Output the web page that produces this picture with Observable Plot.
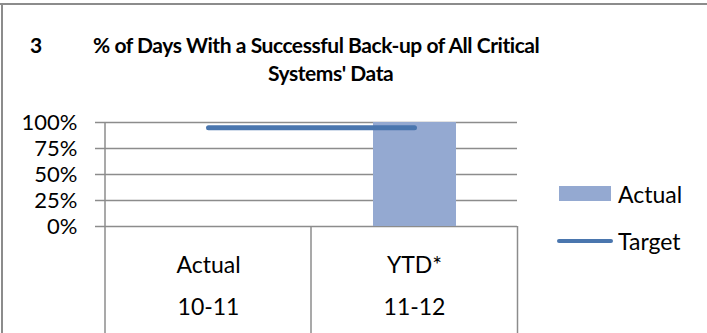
<!DOCTYPE html>
<html><head><meta charset="utf-8">
<script src="https://cdn.jsdelivr.net/npm/d3@7"></script>
<script src="https://cdn.jsdelivr.net/npm/@observablehq/plot@0.6"></script>
<style>
body{margin:0;background:#fff;}
#wrap{position:relative;width:707px;height:333px;overflow:hidden;background:#fff;font-family:Lato,"Open Sans",sans-serif;color:#000;}
#wrap svg{position:absolute;left:0;top:0;}
.bt{position:absolute;left:0;top:3px;width:707px;height:2px;background:#8c8c8c;}
.bl{position:absolute;left:1px;top:3px;width:2px;height:330px;background:#8c8c8c;}
.title{position:absolute;font-weight:bold;font-size:21px;line-height:28px;letter-spacing:-0.45px;white-space:nowrap;}
.leg{position:absolute;font-size:23px;line-height:26px;white-space:nowrap;}
.sw{position:absolute;}
</style></head><body><div id="wrap"></div>
<script>
const periods = ["Actual", "YTD*"];
const years = ["10-11", "11-12"];
const actualValues = [null, 1.00];
const targetValues = [0.95, 0.95];
const yTicks = [0, 0.25, 0.5, 0.75, 1];
const titleNumber = "3";
const titleLine1 = "% of Days With a Successful Back-up of All Critical";
const titleLine2 = "Systems' Data";
const seriesNames = ["Actual", "Target"];
const barColor = "#94a9d1";
const lineColor = "#4a76ae";
const gridColor = "#8c8c8c";

const data = years.map((yr, i) => ({year: yr, period: periods[i], actual: actualValues[i], target: targetValues[i]}));

const frameLines = (index, scales, values, dim) => {
  const x = scales.x;
  const dom = x.domain();
  const bw = (dim.width - dim.marginLeft - dim.marginRight) / dom.length;
  const xs = dom.map(d => x(d)).concat([x(dom[dom.length - 1]) + bw]);
  const g = d3.create("svg:g").attr("stroke", gridColor).attr("stroke-width", 1.5);
  xs.forEach((px, i) => {
    g.append("line").attr("x1", px).attr("x2", px)
      .attr("y1", i === 0 ? dim.marginTop : dim.height - dim.marginBottom)
      .attr("y2", dim.height);
  });
  return g.node();
};

const chart = Plot.plot({
  width: 707, height: 333,
  marginLeft: 104, marginRight: 190, marginTop: 122, marginBottom: 107,
  style: {fontFamily: "Lato, 'Open Sans', sans-serif", fontSize: "22px", color: "#000", background: "transparent"},
  x: {type: "band", domain: years, padding: 0, axis: null},
  y: {domain: [0, 1]},
  marks: [
    Plot.gridY(yTicks, {stroke: gridColor, strokeOpacity: 1, strokeWidth: 1.5}),
    Plot.axisY(yTicks, {tickFormat: d3.format(".0%"), tickSize: 9, tickPadding: 18, stroke: gridColor, strokeWidth: 1.5, fontSize: 22, fill: "#000"}),
    Plot.barY(data.filter(d => d.actual != null), {x: "year", y: "actual", fill: barColor, insetLeft: 62, insetRight: 61}),
    frameLines,
    Plot.line(data, {x: "year", y: "target", stroke: lineColor, strokeWidth: 5, strokeLinecap: "round"}),
    Plot.text(data, {x: "year", text: "period", frameAnchor: "bottom", dy: 46, fontSize: 23, fill: "#000"}),
    Plot.text(data, {x: "year", text: "year", frameAnchor: "bottom", dy: 88, fontSize: 23, fill: "#000"})
  ]
});

const wrap = document.getElementById("wrap");
wrap.appendChild(chart);
wrap.insertAdjacentHTML("beforeend", `
  <div class="bt"></div><div class="bl"></div>
  <div class="title" style="left:30px;top:31px;">${titleNumber}</div>
  <div class="title" style="left:93px;top:31px;">${titleLine1}</div>
  <div class="title" style="left:268px;top:59px;">${titleLine2}</div>
  <div class="sw" style="left:559px;top:186px;width:52px;height:15px;background:${barColor};"></div>
  <div class="leg" style="left:618px;top:181px;">${seriesNames[0]}</div>
  <div class="sw" style="left:557px;top:239px;width:56px;height:4px;border-radius:2px;background:${lineColor};"></div>
  <div class="leg" style="left:618px;top:228px;">${seriesNames[1]}</div>
`);
</script>
</body></html>
